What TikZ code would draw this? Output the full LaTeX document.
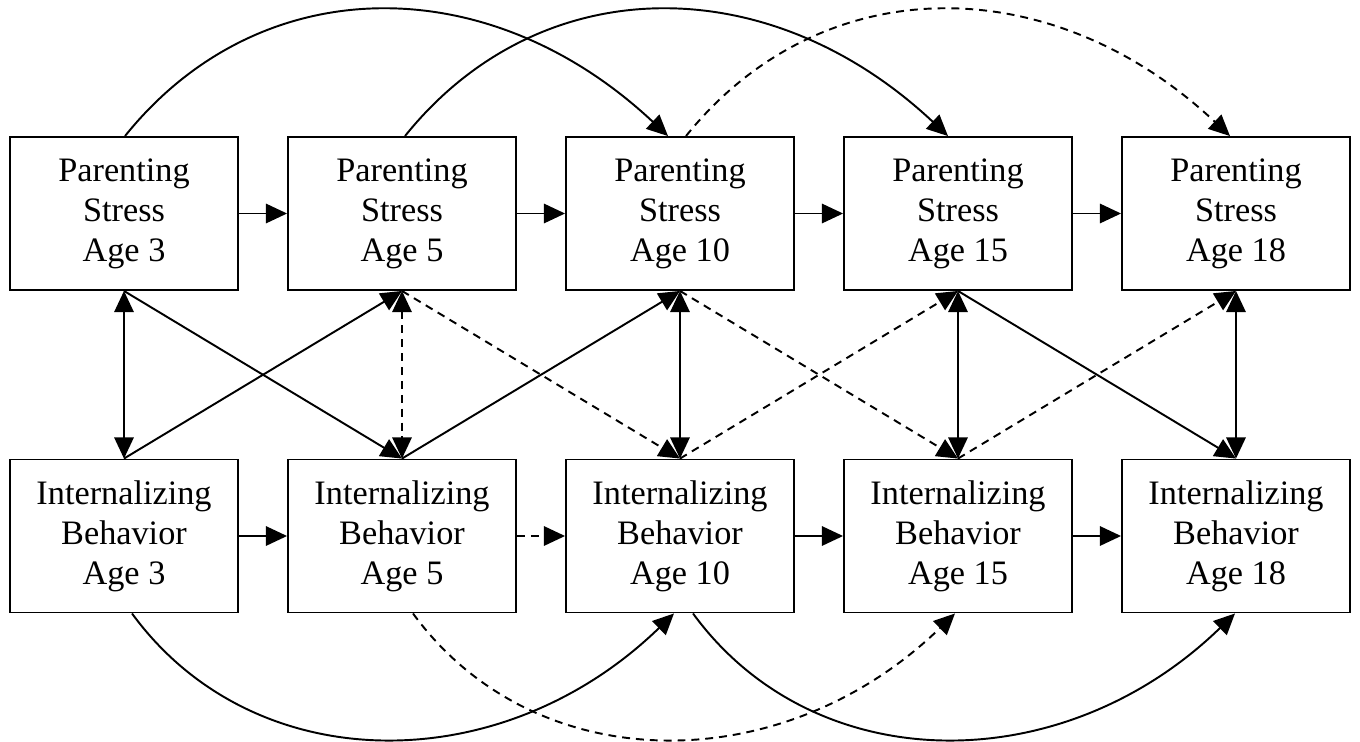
\documentclass[tikz,border=0pt]{standalone}
\usepackage{fontspec}
\setmainfont{Liberation Serif}
\usetikzlibrary{arrows.meta,calc}
\begin{document}
\begin{tikzpicture}[x=0.02cm,y=-0.02cm,
  box/.style={draw,line width=1.1pt,rectangle,minimum width=4.56cm,minimum height=3.06cm,inner sep=0pt,align=center,font=\fontsize{19.5}{22.7}\selectfont},
  conn/.style={line width=1.1pt,-{Triangle[length=12pt,width=11pt]}},
  dbl/.style={line width=1.1pt,{Triangle[length=12pt,width=11pt]}-{Triangle[length=12pt,width=11pt]}},
  dsh/.style={dash pattern=on 4.5pt off 3.4pt}]
\useasboundingbox (0,0) rectangle (1360,741);
% top row
\node[box] (ps1) at (124,213.5) {Parenting\\Stress\\Age 3};
\node[box] (ps2) at (402,213.5) {Parenting\\Stress\\Age 5};
\node[box] (ps3) at (680,213.5) {Parenting\\Stress\\Age 10};
\node[box] (ps4) at (958,213.5) {Parenting\\Stress\\Age 15};
\node[box] (ps5) at (1236,213.5) {Parenting\\Stress\\Age 18};
% bottom row
\node[box] (ib1) at (124,536) {Internalizing\\Behavior\\Age 3};
\node[box] (ib2) at (402,536) {Internalizing\\Behavior\\Age 5};
\node[box] (ib3) at (680,536) {Internalizing\\Behavior\\Age 10};
\node[box] (ib4) at (958,536) {Internalizing\\Behavior\\Age 15};
\node[box] (ib5) at (1236,536) {Internalizing\\Behavior\\Age 18};
% horizontal
\draw[conn] (ps1) -- (ps2);
\draw[conn] (ps2) -- (ps3);
\draw[conn] (ps3) -- (ps4);
\draw[conn] (ps4) -- (ps5);
\draw[conn] (ib1) -- (ib2);
\draw[conn,dsh] (ib2) -- (ib3);
\draw[conn] (ib3) -- (ib4);
\draw[conn] (ib4) -- (ib5);
% vertical
\draw[dbl] (ps1.south) -- (ib1.north);
\draw[dbl,dsh] (ps2.south) -- (ib2.north);
\draw[dbl] (ps3.south) -- (ib3.north);
\draw[dbl] (ps4.south) -- (ib4.north);
\draw[dbl] (ps5.south) -- (ib5.north);
% diagonals
\draw[conn] (ps1.south) -- (ib2.north);
\draw[conn] (ib1.north) -- (ps2.south);
\draw[conn,dsh] (ps2.south) -- (ib3.north);
\draw[conn] (ib2.north) -- (ps3.south);
\draw[conn,dsh] (ps3.south) -- (ib4.north);
\draw[conn,dsh] (ib3.north) -- (ps4.south);
\draw[conn] (ps4.south) -- (ib5.north);
\draw[conn,dsh] (ib4.north) -- (ps5.south);
% top arcs
\draw[conn] ($(ps1.north)+(1,0)$) .. controls +(135,-168) and +(-179,-168) .. ($(ps3.north)+(-12,0)$);
\draw[conn] ($(ps2.north)+(3,0)$) .. controls +(135,-168) and +(-179,-168) .. ($(ps4.north)+(-10,0)$);
\draw[conn,dsh] ($(ps3.north)+(6,0)$) .. controls +(135,-168) and +(-179,-168) .. ($(ps5.north)+(-6,0)$);
% bottom arcs
\draw[conn] ($(ib1.south)+(8,0)$) .. controls +(122,167) and +(-172,167) .. ($(ib3.south)+(-6,0)$);
\draw[conn,dsh] ($(ib2.south)+(11,0)$) .. controls +(122,167) and +(-172,167) .. ($(ib4.south)+(-3,0)$);
\draw[conn] ($(ib3.south)+(13,0)$) .. controls +(122,167) and +(-172,167) .. ($(ib5.south)+(-1,0)$);
\end{tikzpicture}
\end{document}
